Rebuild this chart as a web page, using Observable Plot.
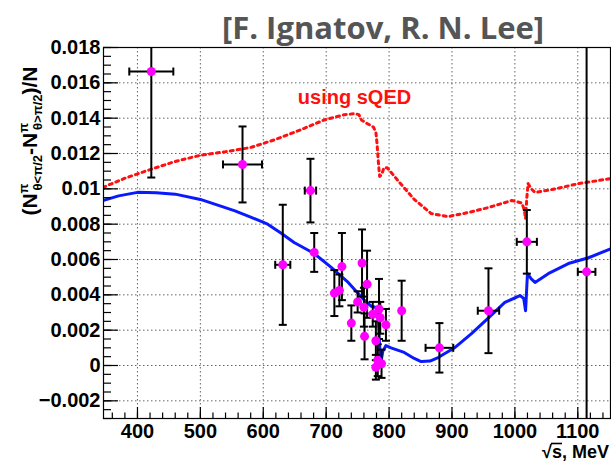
<!DOCTYPE html>
<html><head><meta charset="utf-8">
<script src="https://cdn.jsdelivr.net/npm/d3@7"></script>
<script src="https://cdn.jsdelivr.net/npm/@observablehq/plot@0.6"></script>
<style>body{margin:0;background:#fff}</style>
</head><body><div id="chart"></div>
<script>
// Measured points
const ptX    = [422, 567, 631, 675, 681, 713, 721, 725, 740, 750, 757, 760, 761, 765, 774, 779, 779, 782, 784, 786, 788, 795, 820, 880, 958, 1019, 1114];
const ptY    = [0.01664, 0.01138, 0.0057, 0.0099, 0.0064, 0.0041, 0.00425, 0.0056, 0.0024, 0.0036, 0.0058, 0.0033, 0.00165, 0.0046, 0.0029, 0.0014, -0.0001, 0.0003, 0.0032, 0.0027, 0.0001, 0.0023, 0.0031, 0.001, 0.0031, 0.007, 0.0053];
const ptXerr = [35, 31, 12, 9, 0, 0, 0, 0, 0, 0, 0, 0, 0, 0, 0, 0, 0, 0, 0, 0, 0, 0, 0, 22, 17, 16, 14];
const ptYerr = [0.006, 0.00215, 0.0034, 0.0018, 0.0011, 0.0013, 0.0009, 0.0019, 0.001, 0.0006, 0.0019, 0.0011, 0.0013, 0.0019, 0.0007, 0.0011, 0.0007, 0.0009, 0.0017, 0.0009, 0.0008, 0.0009, 0.0017, 0.0014, 0.0024, 0.0018, 0.016];

// Theory curve (blue)
const theoryX = [345, 370, 400, 430, 460, 500, 530, 555, 580, 607, 628, 649, 681, 708, 735, 761, 772, 778, 782, 784, 786, 787, 790, 795, 803, 824, 840, 851, 865, 878, 904, 931, 958, 984, 1008, 1014, 1017, 1019, 1020, 1026, 1032, 1053, 1085, 1117, 1152];
const theoryY = [0.00934, 0.0096, 0.0098, 0.00978, 0.0097, 0.0094, 0.00905, 0.00875, 0.0084, 0.008, 0.0075, 0.00696, 0.00634, 0.00555, 0.0047, 0.00368, 0.00335, 0.0033, 0.0031, 0.0018, 0.0005, 0.00017, 0.0008, 0.00113, 0.001, 0.00074, 0.0004, 0.00022, 0.00025, 0.00045, 0.001, 0.0018, 0.0027, 0.00357, 0.00396, 0.0038, 0.0031, 0.0045, 0.0052, 0.0049, 0.0047, 0.0052, 0.00577, 0.0061, 0.0066];

// sQED curve (red dotted)
const sqedX = [345, 380, 421, 460, 500, 540, 580, 620, 660, 697, 729, 745, 752, 756, 765, 775, 779, 781, 783, 785, 788, 792, 797, 814, 840, 867, 894, 926, 958, 995, 1011, 1015, 1017, 1019, 1021, 1026, 1032, 1059, 1102, 1152];
const sqedY = [0.01008, 0.0106, 0.0111, 0.01155, 0.0119, 0.0121, 0.01234, 0.0128, 0.01335, 0.0139, 0.0142, 0.01425, 0.0142, 0.0139, 0.0137, 0.0135, 0.0132, 0.0125, 0.0115, 0.0107, 0.0108, 0.0112, 0.0112, 0.01047, 0.0094, 0.0086, 0.00843, 0.00866, 0.00894, 0.00934, 0.0092, 0.0088, 0.0083, 0.0095, 0.0103, 0.01, 0.0098, 0.00996, 0.0103, 0.01058];

const xTicks = [400, 500, 600, 700, 800, 900, 1000, 1100];
const yTicks = [-0.002, 0, 0.002, 0.004, 0.006, 0.008, 0.01, 0.012, 0.014, 0.016, 0.018];
const xMinor = d3.range(360, 1151, 20);
const yMinor = d3.range(-6, 37).map(i => +(i * 0.0005).toFixed(4));

const titleText = "[F. Ignatov, R. N. Lee]";
const annotText = "using sQED";
const xLabelText = "√s, MeV";

const pts = ptX.map((x, i) => ({x, y: ptY[i], ex: ptXerr[i], ey: ptYerr[i]}));
const ptsX = pts.filter(d => d.ex > 0);
const theory = theoryX.map((x, i) => ({x, y: theoryY[i]}));
const sqed = sqedX.map((x, i) => ({x, y: sqedY[i]}));

const hcap = {draw(ctx) { ctx.moveTo(-4, 0); ctx.lineTo(4, 0); }};
const vcap = {draw(ctx) { ctx.moveTo(0, -4); ctx.lineTo(0, 4); }};
const fmt = d3.format("~g");
const font = "'Liberation Sans', Arial, sans-serif";

const chart = Plot.plot({
  width: 611, height: 462,
  marginLeft: 103, marginRight: 1, marginTop: 47, marginBottom: 44,
  style: {fontFamily: font, background: "white"},
  x: {domain: [346, 1152]},
  y: {domain: [-0.003, 0.018]},
  marks: [
    Plot.gridX(xTicks, {stroke: "#666", strokeOpacity: 1, strokeDasharray: "1.5,2.5"}),
    Plot.gridY(yTicks, {stroke: "#666", strokeOpacity: 1, strokeDasharray: "1.5,2.5"}),
    Plot.line(sqed, {x: "x", y: "y", stroke: "#ff1010", strokeWidth: 3, strokeDasharray: "3,4", clip: true}),
    Plot.line(theory, {x: "x", y: "y", stroke: "#0a1aff", strokeWidth: 3, clip: true}),
    Plot.ruleX(pts, {x: "x", y1: d => d.y - d.ey, y2: d => d.y + d.ey, stroke: "black", strokeWidth: 2, clip: true}),
    Plot.ruleY(ptsX, {y: "y", x1: d => d.x - d.ex, x2: d => d.x + d.ex, stroke: "black", strokeWidth: 2, clip: true}),
    Plot.dot(pts, {x: "x", y: d => d.y - d.ey, symbol: hcap, stroke: "black", strokeWidth: 2, clip: true}),
    Plot.dot(pts, {x: "x", y: d => d.y + d.ey, symbol: hcap, stroke: "black", strokeWidth: 2, clip: true}),
    Plot.dot(ptsX, {x: d => d.x - d.ex, y: "y", symbol: vcap, stroke: "black", strokeWidth: 2, clip: true}),
    Plot.dot(ptsX, {x: d => d.x + d.ex, y: "y", symbol: vcap, stroke: "black", strokeWidth: 2, clip: true}),
    Plot.dot(pts, {x: "x", y: "y", r: 4.5, fill: "#ff00ff", stroke: "none"}),
    Plot.axisX(xTicks, {tickSize: -11, text: null, label: null, strokeWidth: 1.2}),
    Plot.axisX(xMinor, {tickSize: -5.5, text: null, label: null, strokeWidth: 1.2}),
    Plot.axisX(xTicks, {tickSize: 0, tickPadding: 5, fontSize: 20, fontWeight: "bold", label: null, tickFormat: d3.format("d"), fill: "black"}),
    Plot.axisY(yTicks, {tickSize: -15, text: null, label: null, strokeWidth: 1.2}),
    Plot.axisY(yMinor, {tickSize: -8, text: null, label: null, strokeWidth: 1.2}),
    Plot.axisY(yTicks, {tickSize: 0, tickPadding: 3, fontSize: 20, fontWeight: "bold", label: null, tickFormat: fmt, fill: "black"}),
    Plot.frame({stroke: "black", strokeWidth: 1.2}),
    Plot.text([annotText], {frameAnchor: "top-left", dx: 251, dy: 42, text: d => d, fill: "#ff1010", fontSize: 20, fontWeight: "bold", textAnchor: "middle", lineAnchor: "top"})
  ]
});

document.getElementById("chart").appendChild(chart);
const svg = d3.select(chart);
svg.append("text")
  .attr("x", 383).attr("y", 39)
  .attr("text-anchor", "middle")
  .attr("font-family", "'Open Sans', sans-serif")
  .attr("font-weight", 700).attr("font-size", 31)
  .attr("fill", "#555")
  .text(titleText);

// y-axis label
const yl = svg.append("text")
  .attr("transform", "translate(37,141) rotate(-90)")
  .attr("text-anchor", "middle")
  .attr("font-family", font).attr("font-weight", "bold").attr("font-size", 21)
  .attr("fill", "black");
yl.append("tspan").text("(N");
yl.append("tspan").attr("font-size", 13).attr("dy", -9).text("π");
yl.append("tspan").attr("font-size", 13).attr("dx", -7).attr("dy", 14).text("θ<π/2");
yl.append("tspan").attr("dy", -5).text("-N");
yl.append("tspan").attr("font-size", 13).attr("dy", -9).text("π");
yl.append("tspan").attr("font-size", 13).attr("dx", -7).attr("dy", 14).text("θ>π/2");
yl.append("tspan").attr("dy", -5).text(")/N");

// x-axis label (single text) with an overline bar over "s"
const xl = svg.append("text")
  .attr("x", 609).attr("y", 458)
  .attr("text-anchor", "end")
  .attr("font-family", font).attr("font-weight", "bold").attr("font-size", 18)
  .attr("fill", "black")
  .text(xLabelText);
const node = xl.node();
try {
  const total = node.getComputedTextLength();
  const x0 = 609 - total;
  const a = node.getSubStringLength(0, 1);
  const b = node.getSubStringLength(1, 1);
  svg.append("line")
    .attr("x1", x0 + a - 1).attr("x2", x0 + a + b)
    .attr("y1", 443.5).attr("y2", 443.5)
    .attr("stroke", "black").attr("stroke-width", 1.6);
} catch (e) {}
</script>
</body></html>
